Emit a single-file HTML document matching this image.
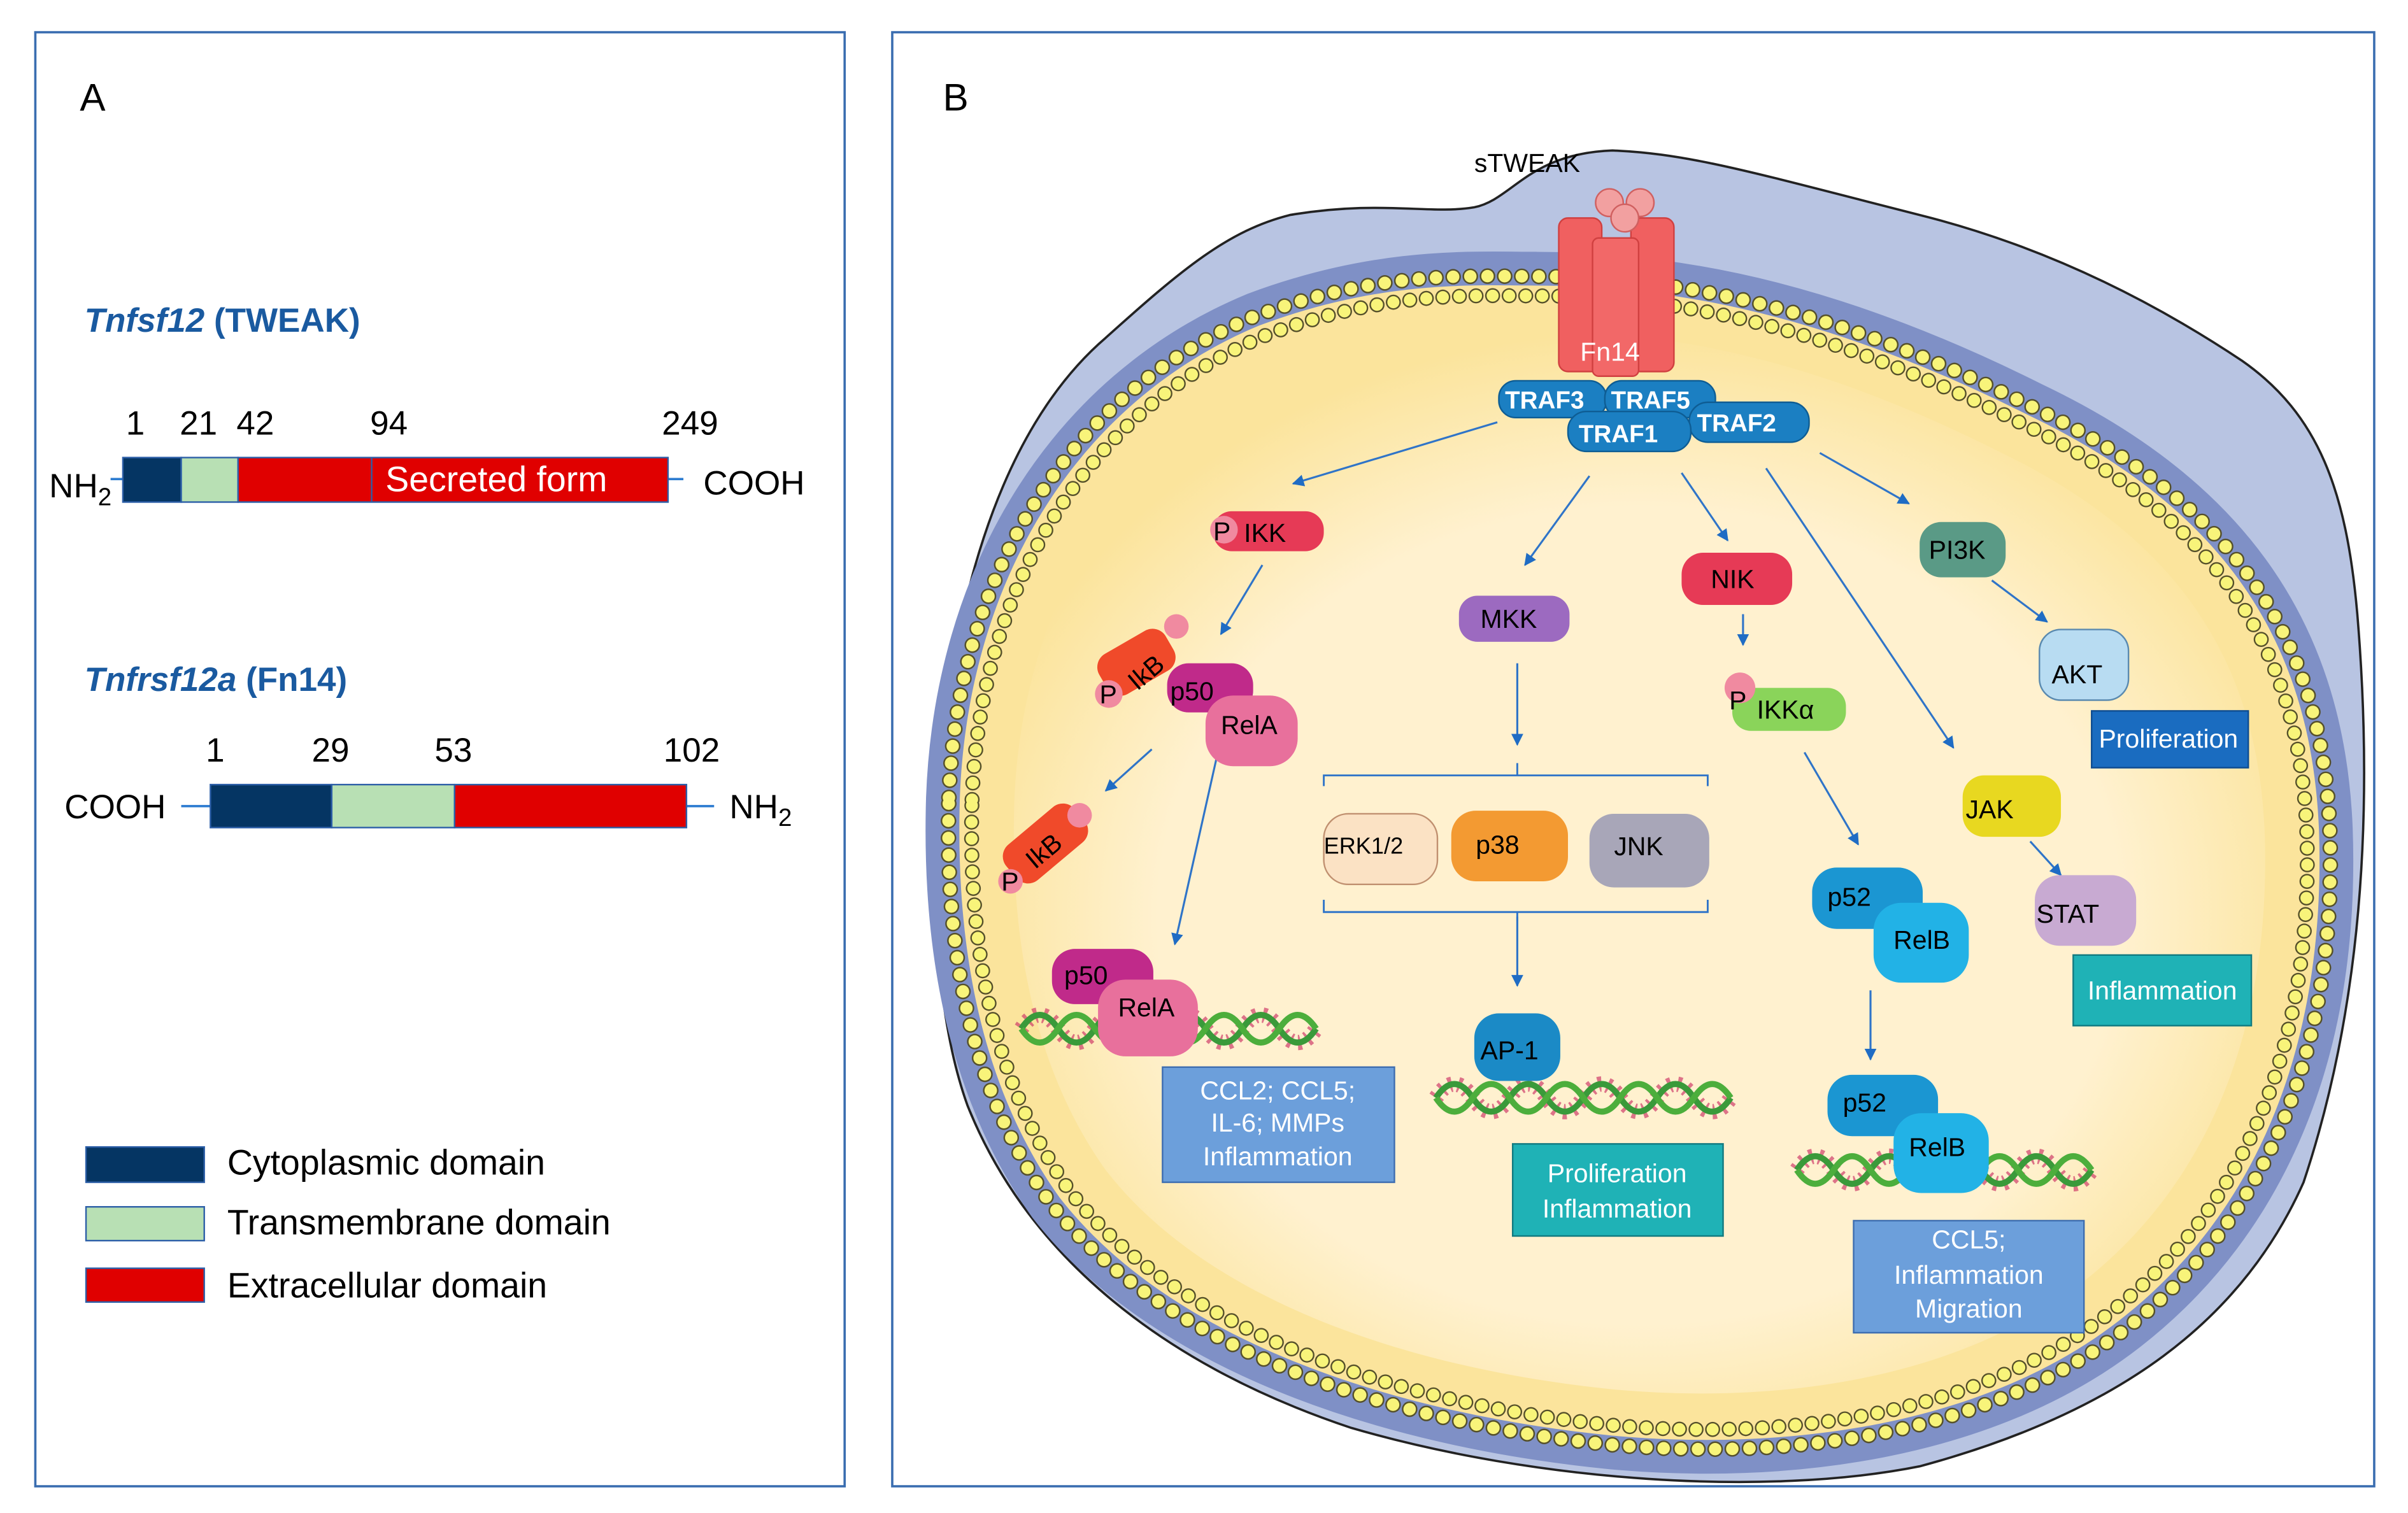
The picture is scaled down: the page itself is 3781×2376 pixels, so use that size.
<!DOCTYPE html>
<html><head><meta charset="utf-8"><style>
html,body{margin:0;padding:0;background:#fff;}
svg{display:block;}
text{font-family:"Liberation Sans",Arial,sans-serif;}
</style></head><body>
<svg width="3781" height="2376" viewBox="0 0 1568 985.4" preserveAspectRatio="none" xmlns="http://www.w3.org/2000/svg">
<defs>
<marker id="ah" viewBox="0 0 10 10" refX="9" refY="5" markerWidth="6" markerHeight="6" orient="auto"><path d="M0,0 L10,5 L0,10 Z" fill="#1f6cc4"/></marker>
<radialGradient id="cyt" cx="0.5" cy="0.55" r="0.55"><stop offset="0.7" stop-color="#fff1cf"/><stop offset="1" stop-color="#fbe49c"/></radialGradient>
<path id="mem" d="M625,520 C630,380 700,262 820,212 C900,182 960,186 1000,186 C1100,186 1200,210 1320,270 C1450,332 1505,420 1510,540 C1515,680 1470,790 1380,860 C1290,930 1160,945 1050,935 C900,920 760,870 690,780 C640,710 622,620 625,520 Z"/>
</defs>
<rect width="1568" height="985.4" fill="#fff"/>
<!-- Panel A -->
<rect x="23" y="21" width="527" height="947" fill="none" stroke="#3a6db0" stroke-width="1.5"/>
<text x="52" y="72" font-size="25">A</text>
<text x="55" y="216" font-size="22" font-weight="bold" fill="#1a5aa0"><tspan font-style="italic">Tnfsf12</tspan> (TWEAK)</text>
<g font-size="22">
<text x="82" y="283">1</text><text x="117" y="283">21</text><text x="154" y="283">42</text><text x="241" y="283">94</text><text x="431" y="283">249</text>
</g>
<line x1="72" y1="312" x2="80" y2="312" stroke="#2a7ad0" stroke-width="1.5"/>
<line x1="435" y1="312" x2="445" y2="312" stroke="#2a7ad0" stroke-width="1.5"/>
<rect x="80" y="298" width="38" height="29" fill="#053563" stroke="#2d5fa8"/>
<rect x="118" y="298" width="37" height="29" fill="#b8e0b4" stroke="#2d5fa8"/>
<rect x="155" y="298" width="280" height="29" fill="#e00000" stroke="#2d5fa8"/>
<line x1="242" y1="298" x2="242" y2="327" stroke="#2d5fa8"/>
<text x="251" y="320" font-size="23" fill="#fff">Secreted form</text>
<text x="32" y="324" font-size="22">NH<tspan font-size="16" dy="5">2</tspan></text>
<text x="458" y="322" font-size="22">COOH</text>
<text x="55" y="450" font-size="22" font-weight="bold" fill="#1a5aa0"><tspan font-style="italic">Tnfrsf12a</tspan> (Fn14)</text>
<g font-size="22">
<text x="134" y="496">1</text><text x="203" y="496">29</text><text x="283" y="496">53</text><text x="432" y="496">102</text>
</g>
<line x1="118" y1="525" x2="137" y2="525" stroke="#2a7ad0" stroke-width="1.5"/>
<line x1="447" y1="525" x2="465" y2="525" stroke="#2a7ad0" stroke-width="1.5"/>
<rect x="137" y="511" width="79" height="28" fill="#053563" stroke="#2d5fa8"/>
<rect x="216" y="511" width="80" height="28" fill="#b8e0b4" stroke="#2d5fa8"/>
<rect x="296" y="511" width="151" height="28" fill="#e00000" stroke="#2d5fa8"/>
<text x="42" y="533" font-size="22">COOH</text>
<text x="475" y="533" font-size="22">NH<tspan font-size="16" dy="5">2</tspan></text>
<rect x="56" y="747" width="77" height="23" fill="#053563" stroke="#2d5fa8"/>
<rect x="56" y="786" width="77" height="22" fill="#b8e0b4" stroke="#2d5fa8"/>
<rect x="56" y="826" width="77" height="22" fill="#e00000" stroke="#2d5fa8"/>
<g font-size="23"><text x="148" y="765">Cytoplasmic domain</text><text x="148" y="804">Transmembrane domain</text><text x="148" y="845">Extracellular domain</text></g>

<!-- Panel B -->
<rect x="581" y="21" width="965" height="947" fill="none" stroke="#3a6db0" stroke-width="1.5"/>
<text x="614" y="72" font-size="25">B</text>
<path d="M610,540 C615,400 650,280 720,220 C770,175 800,150 840,140 C900,130 930,140 960,135 C985,130 995,100 1050,98 C1100,100 1140,112 1250,140 C1330,160 1400,195 1460,235 C1510,270 1528,320 1535,400 C1545,520 1540,650 1500,770 C1460,860 1380,920 1250,955 C1150,975 1000,965 880,930 C760,890 670,820 630,720 C612,670 607,600 610,540 Z" fill="#b8c4e2" stroke="#222" stroke-width="1.5"/>
<use href="#mem" fill="none" stroke="#7f90c6" stroke-width="44"/>
<use href="#mem" fill="#fbe49c"/>
<use href="#mem" fill="url(#cyt)" transform="translate(1068,560) scale(0.92) translate(-1068,-560)"/>
<g transform="translate(1068,560) scale(1.016) translate(-1068,-560)">
<use href="#mem" fill="none" stroke="#55502a" stroke-width="10" stroke-dasharray="0 11" stroke-linecap="round"/>
<use href="#mem" fill="none" stroke="#f8f47a" stroke-width="8" stroke-dasharray="0 11" stroke-linecap="round"/>
</g>
<g transform="translate(1068,560) scale(0.982) translate(-1068,-560)">
<use href="#mem" fill="none" stroke="#55502a" stroke-width="10" stroke-dasharray="0 11" stroke-linecap="round"/>
<use href="#mem" fill="none" stroke="#f8f47a" stroke-width="8" stroke-dasharray="0 11" stroke-linecap="round"/>
</g>
<text x="960" y="112" font-size="17">sTWEAK</text>
<!-- Fn14 -->
<rect x="1015" y="142" width="28" height="100" rx="6" fill="#f06060" stroke="#d04040"/>
<rect x="1062" y="142" width="28" height="100" rx="6" fill="#f06060" stroke="#d04040"/>
<rect x="1037" y="155" width="30" height="90" rx="4" fill="#f26868" stroke="#d04040"/>
<circle cx="1048" cy="132" r="9" fill="#f2a0a0" stroke="#d06060"/>
<circle cx="1068" cy="132" r="9" fill="#f2a0a0" stroke="#d06060"/>
<circle cx="1058" cy="142" r="9" fill="#f2a0a0" stroke="#d06060"/>
<text x="1029" y="235" font-size="17" fill="#fff">Fn14</text>
<!-- TRAFs -->
<g font-size="16" fill="#fff" font-weight="bold">
<rect x="976" y="248" width="70" height="24" rx="11" fill="#1b7fc2" stroke="#0e5d94"/>
<rect x="1045" y="248" width="72" height="24" rx="11" fill="#1b7fc2" stroke="#0e5d94"/>
<rect x="1100" y="262" width="78" height="26" rx="12" fill="#1b7fc2" stroke="#0e5d94"/>
<rect x="1021" y="268" width="80" height="26" rx="12" fill="#1b7fc2" stroke="#0e5d94"/>
<text x="980" y="266">TRAF3</text><text x="1049" y="266">TRAF5</text><text x="1105" y="281">TRAF2</text><text x="1028" y="288">TRAF1</text>
</g>
<!-- arrows -->
<g stroke="#2f74c8" stroke-width="1.3" fill="none" marker-end="url(#ah)">
<line x1="975" y1="275" x2="842" y2="315"/>
<line x1="822" y1="368" x2="795" y2="413"/>
<line x1="750" y1="488" x2="720" y2="515"/>
<line x1="793" y1="490" x2="765" y2="615"/>
<line x1="1035" y1="310" x2="993" y2="368"/>
<line x1="1095" y1="308" x2="1125" y2="352"/>
<line x1="1135" y1="400" x2="1135" y2="420"/>
<line x1="1175" y1="490" x2="1210" y2="550"/>
<line x1="1150" y1="305" x2="1272" y2="487"/>
<line x1="1185" y1="295" x2="1243" y2="328"/>
<line x1="1297" y1="378" x2="1333" y2="405"/>
<line x1="1322" y1="548" x2="1342" y2="570"/>
<line x1="1218" y1="645" x2="1218" y2="690"/>
<line x1="988" y1="432" x2="988" y2="485"/>
<line x1="988" y1="597" x2="988" y2="642"/>
</g>
<path d="M862,512 V505 H1112 V512 M988,505 V497 M862,586 V594 H1112 V586 M988,594 V600" stroke="#2f74c8" stroke-width="1.2" fill="none"/>
<!-- DNA -->
<g fill="none" stroke-width="4">
<g id="dna1">
<path d="M665,670 q12,-18 24,0 t24,0 t24,0 t24,0 t24,0 t24,0 t24,0 t24,0" stroke="#cf3d6a" stroke-width="10" stroke-dasharray="2 4" opacity="0.7"/>
<path d="M665,670 q12,-18 24,0 t24,0 t24,0 t24,0 t24,0 t24,0 t24,0 t24,0" stroke="#3a9a3a"/>
<path d="M665,670 q12,18 24,0 t24,0 t24,0 t24,0 t24,0 t24,0 t24,0 t24,0" stroke="#4cae3c"/>
</g>
<use href="#dna1" transform="translate(270,45)"/>
<use href="#dna1" transform="translate(505,92)"/>
</g>
<!-- proteins -->
<g font-size="17">
<rect x="790" y="333" width="72" height="26" rx="12" fill="#e63a56"/><circle cx="797" cy="345" r="9" fill="#f08aa0"/><text x="790" y="352">P</text><text x="810" y="353">IKK</text>
<rect x="720" y="415" width="50" height="30" rx="10" fill="#f04a2a" transform="rotate(-30 745 440)"/>
<rect x="760" y="432" width="56" height="32" rx="14" fill="#c02a8a"/>
<rect x="785" y="453" width="60" height="46" rx="18" fill="#e8709c"/>
<circle cx="722" cy="452" r="9" fill="#f08aa0"/><circle cx="766" cy="408" r="8" fill="#f08aa0"/>
<text x="716" y="458">P</text><text x="735" y="445" transform="rotate(-40 745 440)">IkB</text><text x="762" y="456">p50</text><text x="795" y="478">RelA</text>
<rect x="652" y="535" width="58" height="30" rx="10" fill="#f04a2a" transform="rotate(-40 680 550)"/>
<circle cx="658" cy="574" r="8" fill="#f08aa0"/><circle cx="703" cy="531" r="8" fill="#f08aa0"/>
<text x="652" y="580">P</text><text x="668" y="560" transform="rotate(-40 680 555)">IkB</text>
<rect x="685" y="618" width="66" height="36" rx="15" fill="#c02a8a"/>
<rect x="715" y="638" width="65" height="50" rx="18" fill="#e8709c"/>
<text x="693" y="641">p50</text><text x="728" y="662">RelA</text>
<rect x="950" y="388" width="72" height="30" rx="12" fill="#9c6ac0"/><text x="964" y="409">MKK</text>
<rect x="862" y="530" width="74" height="46" rx="16" fill="#fbe2c4" stroke="#c09070"/><text x="862" y="556" font-size="15">ERK1/2</text>
<rect x="945" y="528" width="76" height="46" rx="16" fill="#f39a32"/><text x="961" y="556">p38</text>
<rect x="1035" y="530" width="78" height="48" rx="16" fill="#a8a6b8"/><text x="1051" y="557">JNK</text>
<rect x="960" y="660" width="56" height="44" rx="16" fill="#1b8ac6"/><text x="964" y="690">AP-1</text>
<rect x="1095" y="360" width="72" height="34" rx="14" fill="#e63a56"/><text x="1114" y="383">NIK</text>
<rect x="1128" y="448" width="74" height="28" rx="12" fill="#8ad45a"/><circle cx="1133" cy="448" r="10" fill="#f08aa0"/><text x="1126" y="462">P</text><text x="1144" y="468">IKKα</text>
<rect x="1180" y="565" width="72" height="40" rx="16" fill="#1b96d2"/><rect x="1220" y="588" width="62" height="52" rx="18" fill="#22b2e6"/>
<text x="1190" y="590">p52</text><text x="1233" y="618">RelB</text>
<rect x="1190" y="700" width="72" height="40" rx="16" fill="#1b96d2"/><rect x="1233" y="725" width="62" height="52" rx="18" fill="#22b2e6"/>
<text x="1200" y="724">p52</text><text x="1243" y="753">RelB</text>
<rect x="1250" y="340" width="56" height="36" rx="14" fill="#5a9a86"/><text x="1256" y="364">PI3K</text>
<rect x="1328" y="410" width="58" height="46" rx="14" fill="#b8dcf2" stroke="#5a8ab0"/><text x="1336" y="445">AKT</text>
<rect x="1278" y="505" width="64" height="40" rx="14" fill="#e8d820"/><text x="1280" y="533">JAK</text>
<rect x="1325" y="570" width="66" height="46" rx="16" fill="#c8aad2"/><text x="1326" y="601">STAT</text>
</g>
<!-- boxes -->
<g font-size="17" fill="#fff" text-anchor="middle">
<rect x="757" y="695" width="151" height="75" fill="#6c9fdb" stroke="#3d6db0"/>
<text x="832" y="716">CCL2; CCL5;</text><text x="832" y="737">IL-6; MMPs</text><text x="832" y="759">Inflammation</text>
<rect x="985" y="745" width="137" height="60" fill="#1fb2b6" stroke="#117a80"/>
<text x="1053" y="770">Proliferation</text><text x="1053" y="793">Inflammation</text>
<rect x="1207" y="795" width="150" height="73" fill="#6c9fdb" stroke="#3d6db0"/>
<text x="1282" y="813">CCL5;</text><text x="1282" y="836">Inflammation</text><text x="1282" y="858">Migration</text>
<rect x="1362" y="463" width="102" height="37" fill="#1a6cc0" stroke="#0e4c90"/>
<text x="1412" y="487">Proliferation</text>
<rect x="1350" y="622" width="116" height="46" fill="#1fb2b6" stroke="#117a80"/>
<text x="1408" y="651">Inflammation</text>
</g>
</svg>
</body></html>
